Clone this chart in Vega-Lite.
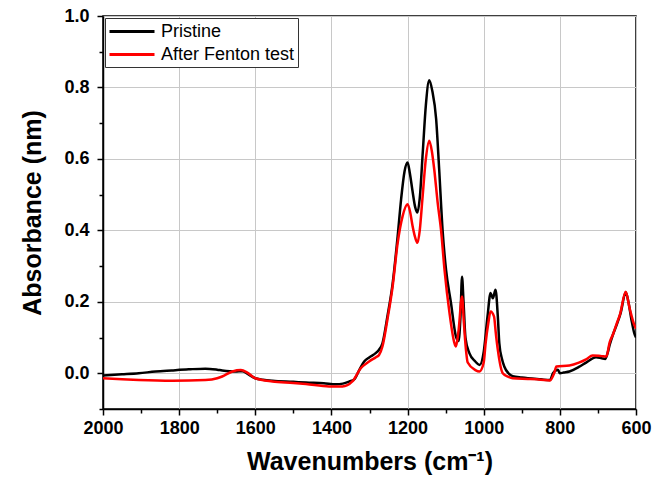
{
  "$schema": "https://vega.github.io/schema/vega-lite/v6.json",
  "width": 533,
  "height": 393,
  "autosize": {"type": "none"},
  "padding": {"left": 103, "top": 16, "right": 33, "bottom": 81},
  "background": "white",
  "config": {
    "font": "Liberation Sans",
    "view": {"stroke": "black", "strokeWidth": 1.5},
    "axis": {
      "domainColor": "black",
      "domainWidth": 1.5,
      "tickColor": "black",
      "tickWidth": 1.5,
      "gridWidth": 1,
      "gridOpacity": 1,
      "labelFont": "Liberation Sans",
      "labelFontWeight": "bold",
      "labelFontSize": 18,
      "labelColor": "black",
      "labelOverlap": false,
      "labelFlush": false,
      "titleFont": "Liberation Sans",
      "titleFontWeight": "bold",
      "titleFontSize": 25,
      "titleColor": "black"
    }
  },
  "datasets": {
    "spectra": [
      {"sample": "Pristine", "wavenumber": 2000, "absorbance": -0.006},
      {"sample": "Pristine", "wavenumber": 1950, "absorbance": -0.003},
      {"sample": "Pristine", "wavenumber": 1906, "absorbance": 0.0},
      {"sample": "Pristine", "wavenumber": 1862, "absorbance": 0.005},
      {"sample": "Pristine", "wavenumber": 1820, "absorbance": 0.008},
      {"sample": "Pristine", "wavenumber": 1775, "absorbance": 0.011},
      {"sample": "Pristine", "wavenumber": 1731, "absorbance": 0.013},
      {"sample": "Pristine", "wavenumber": 1700, "absorbance": 0.01},
      {"sample": "Pristine", "wavenumber": 1687, "absorbance": 0.008},
      {"sample": "Pristine", "wavenumber": 1652, "absorbance": 0.005},
      {"sample": "Pristine", "wavenumber": 1634, "absorbance": 0.006},
      {"sample": "Pristine", "wavenumber": 1620, "absorbance": -0.002},
      {"sample": "Pristine", "wavenumber": 1600, "absorbance": -0.014},
      {"sample": "Pristine", "wavenumber": 1580, "absorbance": -0.018},
      {"sample": "Pristine", "wavenumber": 1555, "absorbance": -0.021},
      {"sample": "Pristine", "wavenumber": 1500, "absorbance": -0.024},
      {"sample": "Pristine", "wavenumber": 1467, "absorbance": -0.026},
      {"sample": "Pristine", "wavenumber": 1420, "absorbance": -0.028},
      {"sample": "Pristine", "wavenumber": 1388, "absorbance": -0.031},
      {"sample": "Pristine", "wavenumber": 1370, "absorbance": -0.029},
      {"sample": "Pristine", "wavenumber": 1353, "absorbance": -0.023},
      {"sample": "Pristine", "wavenumber": 1340, "absorbance": -0.017},
      {"sample": "Pristine", "wavenumber": 1327, "absorbance": 0.009},
      {"sample": "Pristine", "wavenumber": 1314, "absorbance": 0.033},
      {"sample": "Pristine", "wavenumber": 1300, "absorbance": 0.045},
      {"sample": "Pristine", "wavenumber": 1283, "absorbance": 0.057},
      {"sample": "Pristine", "wavenumber": 1275, "absorbance": 0.066},
      {"sample": "Pristine", "wavenumber": 1266, "absorbance": 0.084},
      {"sample": "Pristine", "wavenumber": 1253, "absorbance": 0.159},
      {"sample": "Pristine", "wavenumber": 1239, "absorbance": 0.253},
      {"sample": "Pristine", "wavenumber": 1226, "absorbance": 0.384},
      {"sample": "Pristine", "wavenumber": 1217, "absorbance": 0.487},
      {"sample": "Pristine", "wavenumber": 1208, "absorbance": 0.565},
      {"sample": "Pristine", "wavenumber": 1200, "absorbance": 0.59},
      {"sample": "Pristine", "wavenumber": 1194, "absorbance": 0.56},
      {"sample": "Pristine", "wavenumber": 1187, "absorbance": 0.51},
      {"sample": "Pristine", "wavenumber": 1180, "absorbance": 0.465},
      {"sample": "Pristine", "wavenumber": 1174, "absorbance": 0.45},
      {"sample": "Pristine", "wavenumber": 1168, "absorbance": 0.49},
      {"sample": "Pristine", "wavenumber": 1160, "absorbance": 0.62},
      {"sample": "Pristine", "wavenumber": 1152, "absorbance": 0.75},
      {"sample": "Pristine", "wavenumber": 1143, "absorbance": 0.82},
      {"sample": "Pristine", "wavenumber": 1135, "absorbance": 0.79},
      {"sample": "Pristine", "wavenumber": 1125, "absorbance": 0.712},
      {"sample": "Pristine", "wavenumber": 1117, "absorbance": 0.571},
      {"sample": "Pristine", "wavenumber": 1108, "absorbance": 0.4},
      {"sample": "Pristine", "wavenumber": 1099, "absorbance": 0.29},
      {"sample": "Pristine", "wavenumber": 1086, "absorbance": 0.197},
      {"sample": "Pristine", "wavenumber": 1073, "absorbance": 0.103},
      {"sample": "Pristine", "wavenumber": 1066, "absorbance": 0.09},
      {"sample": "Pristine", "wavenumber": 1061, "absorbance": 0.16},
      {"sample": "Pristine", "wavenumber": 1057, "absorbance": 0.27},
      {"sample": "Pristine", "wavenumber": 1053, "absorbance": 0.2},
      {"sample": "Pristine", "wavenumber": 1048, "absorbance": 0.1},
      {"sample": "Pristine", "wavenumber": 1038, "absorbance": 0.057},
      {"sample": "Pristine", "wavenumber": 1022, "absorbance": 0.033},
      {"sample": "Pristine", "wavenumber": 1011, "absorbance": 0.023},
      {"sample": "Pristine", "wavenumber": 1000, "absorbance": 0.06},
      {"sample": "Pristine", "wavenumber": 990, "absorbance": 0.159},
      {"sample": "Pristine", "wavenumber": 982, "absorbance": 0.225},
      {"sample": "Pristine", "wavenumber": 976, "absorbance": 0.21},
      {"sample": "Pristine", "wavenumber": 969, "absorbance": 0.234},
      {"sample": "Pristine", "wavenumber": 963, "absorbance": 0.16},
      {"sample": "Pristine", "wavenumber": 959, "absorbance": 0.084},
      {"sample": "Pristine", "wavenumber": 952, "absorbance": 0.04},
      {"sample": "Pristine", "wavenumber": 946, "absorbance": 0.019},
      {"sample": "Pristine", "wavenumber": 935, "absorbance": 0.0},
      {"sample": "Pristine", "wavenumber": 924, "absorbance": -0.008},
      {"sample": "Pristine", "wavenumber": 900, "absorbance": -0.012},
      {"sample": "Pristine", "wavenumber": 884, "absorbance": -0.014},
      {"sample": "Pristine", "wavenumber": 850, "absorbance": -0.017},
      {"sample": "Pristine", "wavenumber": 826, "absorbance": -0.019},
      {"sample": "Pristine", "wavenumber": 818, "absorbance": 0.0},
      {"sample": "Pristine", "wavenumber": 810, "absorbance": 0.008},
      {"sample": "Pristine", "wavenumber": 805, "absorbance": 0.01},
      {"sample": "Pristine", "wavenumber": 800, "absorbance": 0.0},
      {"sample": "Pristine", "wavenumber": 790, "absorbance": 0.002},
      {"sample": "Pristine", "wavenumber": 775, "absorbance": 0.005},
      {"sample": "Pristine", "wavenumber": 750, "absorbance": 0.018},
      {"sample": "Pristine", "wavenumber": 731, "absorbance": 0.03},
      {"sample": "Pristine", "wavenumber": 705, "absorbance": 0.045},
      {"sample": "Pristine", "wavenumber": 690, "absorbance": 0.042},
      {"sample": "Pristine", "wavenumber": 681, "absorbance": 0.04},
      {"sample": "Pristine", "wavenumber": 675, "absorbance": 0.055},
      {"sample": "Pristine", "wavenumber": 669, "absorbance": 0.08},
      {"sample": "Pristine", "wavenumber": 660, "absorbance": 0.11},
      {"sample": "Pristine", "wavenumber": 651, "absorbance": 0.135},
      {"sample": "Pristine", "wavenumber": 640, "absorbance": 0.17},
      {"sample": "Pristine", "wavenumber": 627, "absorbance": 0.227},
      {"sample": "Pristine", "wavenumber": 620, "absorbance": 0.2},
      {"sample": "Pristine", "wavenumber": 612, "absorbance": 0.15},
      {"sample": "Pristine", "wavenumber": 604, "absorbance": 0.11},
      {"sample": "Pristine", "wavenumber": 600, "absorbance": 0.1},
      {"sample": "After Fenton test", "wavenumber": 2000, "absorbance": -0.014},
      {"sample": "After Fenton test", "wavenumber": 1950, "absorbance": -0.017},
      {"sample": "After Fenton test", "wavenumber": 1906, "absorbance": -0.019},
      {"sample": "After Fenton test", "wavenumber": 1818, "absorbance": -0.021},
      {"sample": "After Fenton test", "wavenumber": 1731, "absorbance": -0.019},
      {"sample": "After Fenton test", "wavenumber": 1700, "absorbance": -0.014},
      {"sample": "After Fenton test", "wavenumber": 1687, "absorbance": -0.009},
      {"sample": "After Fenton test", "wavenumber": 1660, "absorbance": 0.005},
      {"sample": "After Fenton test", "wavenumber": 1638, "absorbance": 0.009},
      {"sample": "After Fenton test", "wavenumber": 1621, "absorbance": 0.002},
      {"sample": "After Fenton test", "wavenumber": 1600, "absorbance": -0.014},
      {"sample": "After Fenton test", "wavenumber": 1555, "absorbance": -0.023},
      {"sample": "After Fenton test", "wavenumber": 1500, "absorbance": -0.027},
      {"sample": "After Fenton test", "wavenumber": 1467, "absorbance": -0.03},
      {"sample": "After Fenton test", "wavenumber": 1406, "absorbance": -0.037},
      {"sample": "After Fenton test", "wavenumber": 1371, "absorbance": -0.037},
      {"sample": "After Fenton test", "wavenumber": 1345, "absorbance": -0.023},
      {"sample": "After Fenton test", "wavenumber": 1323, "absorbance": 0.014},
      {"sample": "After Fenton test", "wavenumber": 1301, "absorbance": 0.033},
      {"sample": "After Fenton test", "wavenumber": 1283, "absorbance": 0.045},
      {"sample": "After Fenton test", "wavenumber": 1275, "absorbance": 0.051},
      {"sample": "After Fenton test", "wavenumber": 1266, "absorbance": 0.075},
      {"sample": "After Fenton test", "wavenumber": 1253, "absorbance": 0.15},
      {"sample": "After Fenton test", "wavenumber": 1239, "absorbance": 0.245},
      {"sample": "After Fenton test", "wavenumber": 1226, "absorbance": 0.365},
      {"sample": "After Fenton test", "wavenumber": 1213, "absorbance": 0.44},
      {"sample": "After Fenton test", "wavenumber": 1200, "absorbance": 0.473},
      {"sample": "After Fenton test", "wavenumber": 1193, "absorbance": 0.45},
      {"sample": "After Fenton test", "wavenumber": 1187, "absorbance": 0.413},
      {"sample": "After Fenton test", "wavenumber": 1180, "absorbance": 0.38},
      {"sample": "After Fenton test", "wavenumber": 1174, "absorbance": 0.365},
      {"sample": "After Fenton test", "wavenumber": 1168, "absorbance": 0.4},
      {"sample": "After Fenton test", "wavenumber": 1161, "absorbance": 0.488},
      {"sample": "After Fenton test", "wavenumber": 1152, "absorbance": 0.6},
      {"sample": "After Fenton test", "wavenumber": 1143, "absorbance": 0.651},
      {"sample": "After Fenton test", "wavenumber": 1136, "absorbance": 0.62},
      {"sample": "After Fenton test", "wavenumber": 1130, "absorbance": 0.571},
      {"sample": "After Fenton test", "wavenumber": 1121, "absorbance": 0.478},
      {"sample": "After Fenton test", "wavenumber": 1112, "absorbance": 0.4},
      {"sample": "After Fenton test", "wavenumber": 1103, "absorbance": 0.29},
      {"sample": "After Fenton test", "wavenumber": 1090, "absorbance": 0.17},
      {"sample": "After Fenton test", "wavenumber": 1077, "absorbance": 0.085},
      {"sample": "After Fenton test", "wavenumber": 1073, "absorbance": 0.075},
      {"sample": "After Fenton test", "wavenumber": 1066, "absorbance": 0.12},
      {"sample": "After Fenton test", "wavenumber": 1057, "absorbance": 0.215},
      {"sample": "After Fenton test", "wavenumber": 1052, "absorbance": 0.14},
      {"sample": "After Fenton test", "wavenumber": 1047, "absorbance": 0.07},
      {"sample": "After Fenton test", "wavenumber": 1042, "absorbance": 0.03},
      {"sample": "After Fenton test", "wavenumber": 1022, "absorbance": 0.009},
      {"sample": "After Fenton test", "wavenumber": 1011, "absorbance": 0.005},
      {"sample": "After Fenton test", "wavenumber": 1000, "absorbance": 0.03},
      {"sample": "After Fenton test", "wavenumber": 995, "absorbance": 0.084},
      {"sample": "After Fenton test", "wavenumber": 988, "absorbance": 0.14},
      {"sample": "After Fenton test", "wavenumber": 982, "absorbance": 0.173},
      {"sample": "After Fenton test", "wavenumber": 973, "absorbance": 0.159},
      {"sample": "After Fenton test", "wavenumber": 968, "absorbance": 0.11},
      {"sample": "After Fenton test", "wavenumber": 963, "absorbance": 0.066},
      {"sample": "After Fenton test", "wavenumber": 950, "absorbance": 0.0},
      {"sample": "After Fenton test", "wavenumber": 935, "absorbance": -0.01},
      {"sample": "After Fenton test", "wavenumber": 924, "absorbance": -0.014},
      {"sample": "After Fenton test", "wavenumber": 884, "absorbance": -0.016},
      {"sample": "After Fenton test", "wavenumber": 850, "absorbance": -0.018},
      {"sample": "After Fenton test", "wavenumber": 826, "absorbance": -0.02},
      {"sample": "After Fenton test", "wavenumber": 815, "absorbance": 0.0},
      {"sample": "After Fenton test", "wavenumber": 809, "absorbance": 0.019},
      {"sample": "After Fenton test", "wavenumber": 775, "absorbance": 0.022},
      {"sample": "After Fenton test", "wavenumber": 750, "absorbance": 0.03},
      {"sample": "After Fenton test", "wavenumber": 731, "absorbance": 0.039},
      {"sample": "After Fenton test", "wavenumber": 714, "absorbance": 0.05},
      {"sample": "After Fenton test", "wavenumber": 690, "absorbance": 0.048},
      {"sample": "After Fenton test", "wavenumber": 678, "absorbance": 0.047},
      {"sample": "After Fenton test", "wavenumber": 669, "absorbance": 0.087},
      {"sample": "After Fenton test", "wavenumber": 660, "absorbance": 0.11},
      {"sample": "After Fenton test", "wavenumber": 651, "absorbance": 0.138},
      {"sample": "After Fenton test", "wavenumber": 642, "absorbance": 0.165},
      {"sample": "After Fenton test", "wavenumber": 627, "absorbance": 0.228},
      {"sample": "After Fenton test", "wavenumber": 617, "absorbance": 0.183},
      {"sample": "After Fenton test", "wavenumber": 604, "absorbance": 0.134},
      {"sample": "After Fenton test", "wavenumber": 600, "absorbance": 0.125}
    ]
  },
  "data": {"name": "spectra"},
  "mark": {"type": "line", "strokeWidth": 2.5, "interpolate": "monotone", "clip": true},
  "encoding": {
    "x": {
      "field": "wavenumber",
      "type": "quantitative",
      "scale": {"domain": [600, 2000], "reverse": true, "nice": false, "zero": false},
      "axis": {
        "title": "Wavenumbers (cm⁻¹)",
        "values": [2000, 1900, 1800, 1700, 1600, 1500, 1400, 1300, 1200, 1100, 1000, 900, 800, 700, 600],
        "labelExpr": "datum.value % 200 === 0 ? format(datum.value, 'd') : ''",
        "tickSize": {"condition": {"test": "datum.value % 200 === 0", "value": 6}, "value": 4},
        "gridColor": {"condition": {"test": "datum.value % 200 === 0", "value": "#c8c8c8"}, "value": "transparent"},
        "grid": true,
        "labelPadding": 4,
        "titlePadding": 12
      }
    },
    "y": {
      "field": "absorbance",
      "type": "quantitative",
      "scale": {"domain": [-0.1, 1.0], "nice": false, "zero": false},
      "axis": {
        "title": "Absorbance (nm)",
        "values": [-0.1, 0, 0.1, 0.2, 0.3, 0.4, 0.5, 0.6, 0.7, 0.8, 0.9, 1.0],
        "labelExpr": "abs(round(datum.value * 10)) % 2 === 0 ? format(datum.value, '.1f') : ''",
        "tickSize": {"condition": {"test": "abs(round(datum.value * 10)) % 2 === 0", "value": 6}, "value": 4},
        "gridColor": {"condition": {"test": "abs(round(datum.value * 10)) % 2 === 0", "value": "#c8c8c8"}, "value": "transparent"},
        "grid": true,
        "labelPadding": 8,
        "titlePadding": 18
      }
    },
    "color": {
      "field": "sample",
      "type": "nominal",
      "sort": ["Pristine", "After Fenton test"],
      "scale": {"domain": ["Pristine", "After Fenton test"], "range": ["#000000", "#ff0000"]},
      "legend": {
        "title": null,
        "orient": "top-left",
        "offset": 2,
        "padding": 3,
        "rowPadding": 3,
        "strokeColor": "#333333",
        "fillColor": "white",
        "symbolType": "M-1,0H4",
        "symbolSize": 324,
        "symbolStrokeWidth": 3,
        "labelFont": "Liberation Sans",
        "labelFontSize": 18,
        "labelColor": "black",
        "labelOffset": 32
      }
    }
  }
}
